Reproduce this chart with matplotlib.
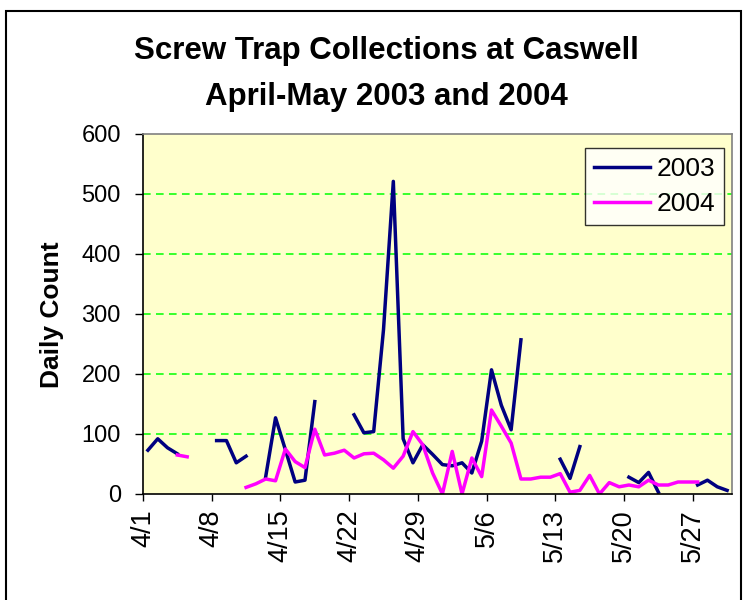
import matplotlib
matplotlib.use('Agg')
import matplotlib.pyplot as plt
import numpy as np
from matplotlib.patches import Rectangle

nan = np.nan

# daily counts, 4/1 .. 5/30 (nan = no sample)
counts_2003 = [73, 92, 77, 67, nan, nan, nan, 89, 89, 52,
               63, nan, 29, 127, 74, 20, 23, 154, nan, nan,
               nan, 132, 102, 104, 274, 521, 92, 52, 82, 66,
               49, 47, 52, 35, 88, 207, 148, 107, 257, nan,
               nan, nan, 58, 26, 79, nan, nan, nan, nan, 28,
               19, 36, 3, nan, nan, nan, 15, 23, 12, 6]
counts_2004 = [nan, nan, nan, 65, 62, nan, nan, nan, nan, nan,
               11, 17, 25, 22, 75, 54, 44, 108, 65, 68,
               73, 60, 67, 68, 57, 43, 63, 104, 82, 35,
               0, 71, 0, 60, 29, 140, 113, 85, 25, 25,
               28, 28, 34, 3, 6, 31, 0, 19, 12, 15,
               12, 23, 15, 15, 20, 20, 20, nan, nan, nan]
tick_labels = ['4/1', '4/8', '4/15', '4/22', '4/29', '5/6', '5/13', '5/20', '5/27']

plt.rcParams['font.family'] = ['Liberation Sans', 'DejaVu Sans']

fig = plt.figure(figsize=(7.48, 6), dpi=100)
fig.patches.append(Rectangle((6 / 748, -0.05), 735 / 748, 1.05 - 10.5 / 600,
                             transform=fig.transFigure, fill=False,
                             edgecolor='black', linewidth=1.5))

ax = fig.add_axes([143 / 748, 1 - 494 / 600, 589 / 748, 360 / 600])
ax.set_facecolor('#FFFFCC')

days = np.arange(len(counts_2003)) + 0.5
ax.plot(days, counts_2003, color='#000080', linewidth=2.5, label='2003')
ax.plot(days, counts_2004, color='#FF00FF', linewidth=2.5, label='2004')

ax.set_xlim(0, len(counts_2003))
ax.set_ylim(0, 600)
ax.set_yticks(range(0, 601, 100))
ax.set_xticks(range(0, 7 * len(tick_labels), 7))
ax.set_xticklabels(tick_labels, rotation=90, fontsize=19.5)
ax.tick_params(axis='y', labelsize=17, length=6, width=1, direction='out', pad=10)
ax.tick_params(axis='x', length=5, width=1, direction='out', pad=6)

for v in range(100, 600, 100):
    ax.axhline(v, color='#00FF00', linewidth=1.1, linestyle=(0, (5, 3.5)), zorder=0)

ax.spines['left'].set_color('black')
ax.spines['bottom'].set_color('black')
ax.spines['top'].set_color('#808080')
ax.spines['right'].set_color('#808080')
for s in ax.spines.values():
    s.set_linewidth(1.2)

fig.text(52 / 748, 1 - 315 / 600, 'Daily Count', rotation=90, ha='center', va='center',
         fontsize=19, fontweight='bold')
fig.text(386 / 748, 1 - 51 / 600, 'Screw Trap Collections at Caswell', ha='center', va='center',
         fontsize=22.5, fontweight='bold')
fig.text(386 / 748, 1 - 97 / 600, 'April-May 2003 and 2004', ha='center', va='center',
         fontsize=22.5, fontweight='bold')

leg = ax.legend(loc='upper right', bbox_to_anchor=(724 / 748, 1 - 148 / 600),
                bbox_transform=fig.transFigure, fontsize=19, frameon=True, fancybox=False,
                handlelength=2.1, handletextpad=0.25, borderpad=0.35, labelspacing=0.4,
                borderaxespad=0)
leg.get_frame().set_edgecolor('black')
leg.get_frame().set_linewidth(1)

fig.savefig('out.png', dpi=100)
